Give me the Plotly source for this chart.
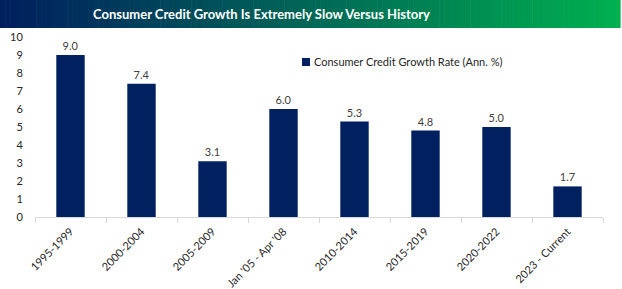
import plotly.graph_objects as go

categories = ["1995-1999", "2000-2004", "2005-2009", "Jan '05 - Apr '08",
              "2010-2014", "2015-2019", "2020-2022", "2023 - Current"]
values = [9.0, 7.4, 3.1, 6.0, 5.3, 4.8, 5.0, 1.7]
series_name = "Consumer Credit Growth Rate (Ann. %)"
title_text = "Consumer Credit Growth Is Extremely Slow Versus History"

W, H = 622, 289
ML, MR, MT, MB = 35, 19, 37, 72
PW, PH = W - ML - MR, H - MT - MB
BAR_COLOR = "#002060"
FONT = "Lato, sans-serif"

def px2x(px):
    return (px - ML) / PW

def py2y(py):
    return 1 - (py - MT) / PH

fig = go.Figure()
fig.add_trace(go.Bar(
    x=categories, y=values, name=series_name,
    marker=dict(color=BAR_COLOR, line=dict(width=0)),
    text=[f"{v:.1f}" for v in values], textposition="outside",
    textfont=dict(family=FONT, size=11, color="#404040"),
    cliponaxis=False, showlegend=False,
))

# gradient title bar
shapes = []
n = 120
c0 = (0x00, 0x1f, 0x5e)
c1 = (0x00, 0xb0, 0x4f)
x0p, x1p = 0, 620
for i in range(n):
    t = i / (n - 1)
    col = tuple(int(round(c0[k] + (c1[k] - c0[k]) * t)) for k in range(3))
    a = x0p + (x1p - x0p) * i / n
    b = x0p + (x1p - x0p) * (i + 1) / n + 0.6
    shapes.append(dict(type="rect", xref="paper", yref="paper",
                       x0=px2x(a), x1=px2x(b), y0=py2y(28), y1=py2y(0),
                       fillcolor="rgb(%d,%d,%d)" % col, line=dict(width=0),
                       layer="below"))

# legend swatch (manual)
shapes.append(dict(type="rect", xref="paper", yref="paper",
                   x0=px2x(302), x1=px2x(310), y0=py2y(66), y1=py2y(58),
                   fillcolor=BAR_COLOR, line=dict(width=0)))

annotations = [
    dict(text="<b>" + title_text + "</b>", xref="paper", yref="paper",
         x=px2x(261), y=py2y(14), xanchor="center", yanchor="middle",
         showarrow=False, font=dict(family=FONT, size=13, color="white")),
    dict(text=series_name, xref="paper", yref="paper",
         x=px2x(312), y=py2y(62), xanchor="left", yanchor="middle",
         showarrow=False, font=dict(family=FONT, size=11, color="#262626")),
]

fig.update_layout(
    width=W, height=H,
    margin=dict(l=ML, r=MR, t=MT, b=MB, autoexpand=False),
    paper_bgcolor="white", plot_bgcolor="white",
    bargap=0.6,
    shapes=shapes,
    annotations=annotations,
    showlegend=False,
    xaxis=dict(type="category", tickangle=-45, tickson="boundaries",
               ticks="outside", ticklen=5, tickcolor="#d9d9d9",
               showline=True, linecolor="#d9d9d9", linewidth=1,
               showgrid=False, automargin=False, ticklabelstandoff=3,
               tickfont=dict(family=FONT, size=11, color="#262626")),
    yaxis=dict(range=[0, 10], dtick=1, showgrid=False, zeroline=False,
               showline=False, ticks="outside", ticklen=9, tickcolor="rgba(0,0,0,0)",
               automargin=False,
               tickfont=dict(family=FONT, size=11, color="#262626")),
)

fig.write_html("out.html")
